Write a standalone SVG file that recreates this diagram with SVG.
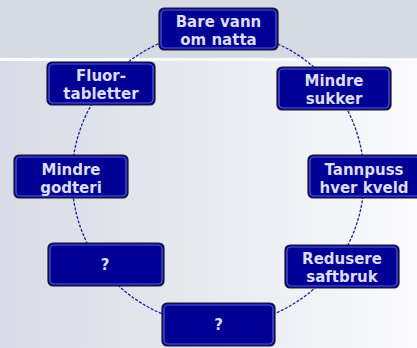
<svg xmlns="http://www.w3.org/2000/svg" width="417" height="348" viewBox="0 0 417 348">
<defs>
<linearGradient id="bg" x1="0" y1="0" x2="1" y2="0">
<stop offset="0" stop-color="#d8dbe5"/>
<stop offset="0.5" stop-color="#e8eaf0"/>
<stop offset="1" stop-color="#fbfbfd"/>
</linearGradient>
<style>
.box{fill:#000094;stroke:#1a1a2a;stroke-width:1.2}
.hl{fill:none;stroke:#5a5ad0;stroke-width:1.2}
.t{font-family:"DejaVu Sans",Verdana,sans-serif;font-weight:bold;font-size:15px;fill:#dcdcf2;text-anchor:middle}
.ring{fill:none;stroke:#1f1fa0;stroke-width:1.3;stroke-dasharray:3 1.5}
</style>
</defs>
<rect x="0" y="0" width="417" height="348" fill="url(#bg)"/>
<rect x="0" y="0" width="417" height="59" fill="#d6dae3"/>
<rect x="0" y="58" width="417" height="3" fill="#ffffff" opacity="0.9"/>
<g id="connectors">
<ellipse class="ring" cx="218" cy="178" rx="146" ry="147"/>
</g>
<g id="n1"><rect class="box" x="159" y="8" width="119" height="42" rx="5"/><rect class="hl" x="161" y="10" width="115" height="38" rx="4"/><text class="t" x="218.5" y="27">Bare vann</text><text class="t" x="218.5" y="45">om natta</text></g>
<g id="n2"><rect class="box" x="277" y="67" width="114" height="43" rx="5"/><rect class="hl" x="279" y="69" width="110" height="39" rx="4"/><text class="t" x="334" y="86">Mindre</text><text class="t" x="334" y="104">sukker</text></g>
<g id="n3"><rect class="box" x="308" y="155" width="114" height="43" rx="5"/><rect class="hl" x="310" y="157" width="110" height="39" rx="4"/><text class="t" x="364" y="175">Tannpuss</text><text class="t" x="364" y="193">hver kveld</text></g>
<g id="n4"><rect class="box" x="285" y="245" width="114" height="43" rx="5"/><rect class="hl" x="287" y="247" width="110" height="39" rx="4"/><text class="t" x="342" y="264">Redusere</text><text class="t" x="342" y="282">saftbruk</text></g>
<g id="n5"><rect class="box" x="162" y="303" width="113" height="43" rx="5"/><rect class="hl" x="164" y="305" width="109" height="39" rx="4"/><text class="t" x="218.5" y="330">?</text></g>
<g id="n6"><rect class="box" x="48" y="243" width="116" height="43" rx="5"/><rect class="hl" x="50" y="245" width="112" height="39" rx="4"/><text class="t" x="105" y="270">?</text></g>
<g id="n7"><rect class="box" x="14" y="155" width="114" height="43" rx="5"/><rect class="hl" x="16" y="157" width="110" height="39" rx="4"/><text class="t" x="71" y="175">Mindre</text><text class="t" x="71" y="193">godteri</text></g>
<g id="n8"><rect class="box" x="47" y="62" width="108" height="43" rx="5"/><rect class="hl" x="49" y="64" width="104" height="39" rx="4"/><text class="t" x="101" y="81">Fluor-</text><text class="t" x="101" y="99">tabletter</text></g>
</svg>
